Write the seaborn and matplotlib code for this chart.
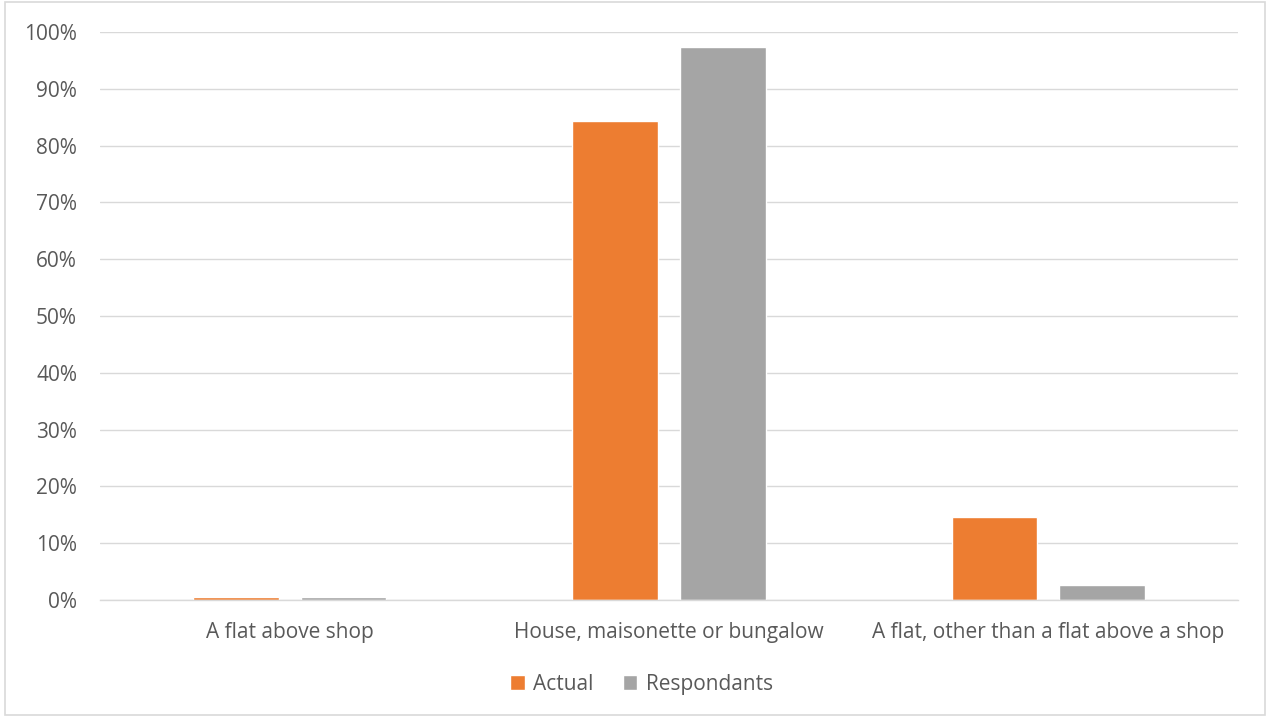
import matplotlib
matplotlib.use("Agg")
import matplotlib.pyplot as plt
import seaborn as sns
import pandas as pd
from matplotlib.ticker import PercentFormatter, MultipleLocator
from matplotlib.patches import Rectangle

categories = ["A flat above shop", "House, maisonette or bungalow", "A flat, other than a flat above a shop"]
series_names = ["Actual", "Respondants"]
actual = [0.5, 84.4, 14.6]
respondants = [0.5, 97.4, 2.6]
colors = ["#ED7D31", "#A5A5A5"]

df = pd.DataFrame({
    "category": categories * 2,
    "series": [series_names[0]] * 3 + [series_names[1]] * 3,
    "value": actual + respondants,
})

sns.set_theme(style="white")
plt.rcParams["font.family"] = ["Open Sans", "DejaVu Sans"]

fig = plt.figure(figsize=(12.68, 7.17), dpi=100)
ax = fig.add_axes([100 / 1268, 1 - 600 / 717, 1138 / 1268, 568 / 717])

sns.barplot(data=df, x="category", y="value", hue="series", order=categories,
            hue_order=series_names, palette=colors, width=0.568, gap=0.204,
            saturation=1, ax=ax, legend=True)

ax.set_xlim(-0.5, 2.5)
ax.set_ylim(0, 100)
ax.yaxis.set_major_locator(MultipleLocator(10))
ax.yaxis.set_major_formatter(PercentFormatter(decimals=0))
ax.grid(axis="y", color="#D9D9D9", linewidth=1)
ax.set_axisbelow(True)
for s in ["top", "right", "left"]:
    ax.spines[s].set_visible(False)
ax.spines["bottom"].set_color("#D9D9D9")
ax.spines["bottom"].set_linewidth(1)
ax.set_xlabel("")
ax.set_ylabel("")
ax.tick_params(axis="both", length=0, colors="#595959", labelsize=15)
ax.tick_params(axis="y", pad=16.5)
ax.tick_params(axis="x", pad=15.5)

handles, labels = ax.get_legend_handles_labels()
ax.legend(handles, labels, loc="center", bbox_to_anchor=(0.476, -0.148), ncol=2,
          frameon=False, fontsize=15, labelcolor="#595959", handlelength=0.7,
          handleheight=0.7, handletextpad=0.4, columnspacing=1.4)

fig.patches.append(Rectangle((5 / 1268, 2 / 717), 1260 / 1268, 713 / 717,
                             transform=fig.transFigure, fill=False,
                             edgecolor="#D9D9D9", linewidth=1.2))

fig.savefig("out.png", dpi=100, facecolor="white")
